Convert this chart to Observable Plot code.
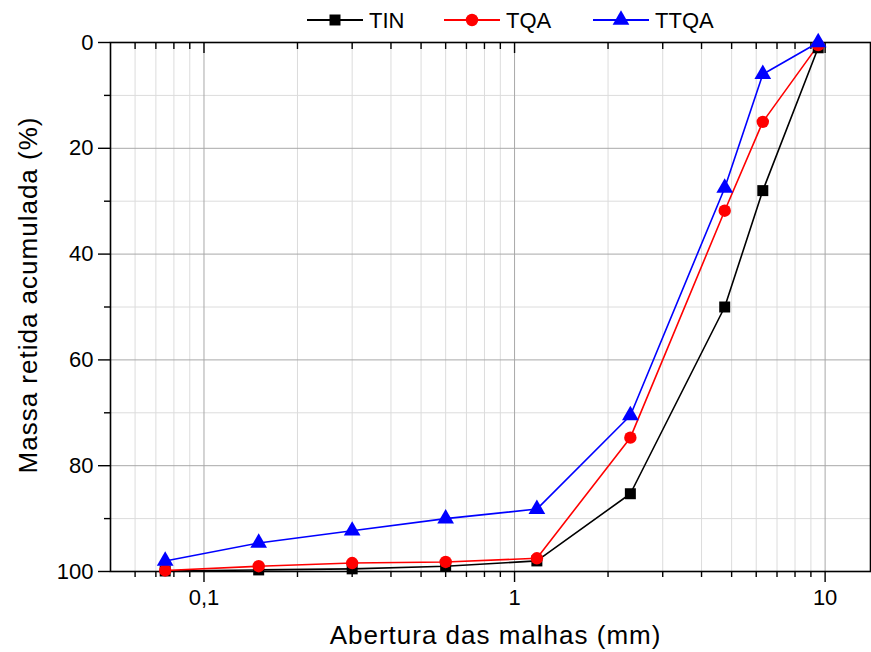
<!DOCTYPE html>
<html>
<head>
<meta charset="utf-8">
<script src="https://cdn.jsdelivr.net/npm/d3@7"></script>
<script src="https://cdn.jsdelivr.net/npm/@observablehq/plot@0.6"></script>
<style>
  html, body { margin: 0; padding: 0; background: #fff; }
  #wrap { position: relative; width: 871px; height: 652px; font-family: "Liberation Sans", Arial, sans-serif; }
  #legend { position: absolute; top: 0; left: 0; width: 871px; height: 36px; }
  svg { overflow: visible; }
</style>
</head>
<body>
<div id="wrap"><div id="chart"></div><svg id="legend" width="871" height="36"></svg></div>
<script>
// Sieve openings (mm)
const sieves = [0.075, 0.15, 0.3, 0.6, 1.18, 2.36, 4.75, 6.3, 9.5];
// Cumulative retained mass (%)
const TIN  = [99.9, 99.7, 99.5, 99.0, 98.0, 85.3, 50.0, 28.0, 1.0];
const TQA  = [99.8, 99.0, 98.4, 98.2, 97.5, 74.7, 31.8, 15.0, 0.5];
const TTQA = [98.0, 94.6, 92.3, 90.0, 88.2, 70.5, 27.5, 6.0, 0.0];
const seriesNames = ["TIN", "TQA", "TTQA"];
const seriesColors = ["black", "red", "blue"];
const seriesSymbols = ["square", "circle", "triangle"];
const yMajor = [0, 20, 40, 60, 80, 100];
const yMinor = [10, 30, 50, 70, 90];
const xMajor = [0.1, 1, 10];
const xMinor = [0.06, 0.07, 0.08, 0.09, 0.2, 0.3, 0.4, 0.5, 0.6, 0.7, 0.8, 0.9, 2, 3, 4, 5, 6, 7, 8, 9];

const allSeries = [TIN, TQA, TTQA];
const data = [];
allSeries.forEach((vals, i) => vals.forEach((v, j) => data.push({series: seriesNames[i], x: sieves[j], y: v})));

const fmt = d => String(d).replace(".", ",");
const blank = () => "";
const font = "Liberation Sans, Arial, sans-serif";

const chart = Plot.plot({
  width: 871,
  height: 652,
  marginLeft: 110,
  marginRight: 1,
  marginTop: 42,
  marginBottom: 81,
  style: {fontFamily: font, fontSize: "22px", color: "black", background: "white", overflow: "visible"},
  x: {type: "log", domain: [0.05, 14]},
  y: {domain: [0, 100], reverse: true},
  color: {domain: seriesNames, range: seriesColors},
  symbol: {domain: seriesNames, range: seriesSymbols},
  marks: [
    Plot.ruleX(xMinor, {stroke: "#dcdcdc", strokeWidth: 1}),
    Plot.ruleY(yMinor, {stroke: "#dcdcdc", strokeWidth: 1}),
    Plot.ruleX(xMajor, {stroke: "#a8a8a8", strokeWidth: 1}),
    Plot.ruleY(yMajor, {stroke: "#a8a8a8", strokeWidth: 1}),
    Plot.frame({stroke: "black", strokeWidth: 1.6}),
    // left axis
    Plot.axisY({anchor: "left", ticks: yMajor, tickSize: 12, tickPadding: 5, tickFormat: d => d, fontSize: 22, label: null, strokeWidth: 1.4}),
    Plot.axisY({anchor: "left", ticks: yMinor, tickSize: 6, tickFormat: blank, label: null, strokeWidth: 1.4}),
    // right axis ticks
    Plot.axisY({anchor: "right", ticks: yMajor, tickSize: 8, tickFormat: blank, label: null, strokeWidth: 1.4}),
    // bottom axis
    Plot.axisX({anchor: "bottom", ticks: xMajor, tickSize: 11, tickPadding: 7, tickFormat: fmt, fontSize: 22, label: null, strokeWidth: 1.4}),
    Plot.axisX({anchor: "bottom", ticks: xMinor, tickSize: 6, tickFormat: blank, label: null, strokeWidth: 1.4}),
    // top axis ticks (inward)
    Plot.axisX({anchor: "top", ticks: xMajor, tickSize: -10, tickFormat: blank, label: null, strokeWidth: 1.4}),
    Plot.axisX({anchor: "top", ticks: xMinor, tickSize: -6, tickFormat: blank, label: null, strokeWidth: 1.4}),
    Plot.line(data, {x: "x", y: "y", z: "series", stroke: "series", strokeWidth: 1.6}),
    Plot.dot(data, {x: "x", y: "y", fill: "series", symbol: "series", r: 6.2, stroke: "none"}),
    Plot.text(["Abertura das malhas (mm)"], {frameAnchor: "bottom", dx: 5, dy: 72, fontSize: 26, text: d => d}),
    Plot.text(["Massa retida acumulada (%)"], {frameAnchor: "left", textAnchor: "middle", dx: -82, dy: -12, rotate: -90, fontSize: 26, text: d => d})
  ]
});
document.getElementById("chart").appendChild(chart);
// slight letter spacing on the axis titles, as in the reference
d3.select(chart).selectAll("text").filter(function() { return /Abertura|Massa/.test(this.textContent); }).style("letter-spacing", "1px");

// Legend built from the same series arrays
const lg = d3.select("#legend");
const lx = [307, 444, 593];
const sym = {square: d3.symbolSquare, circle: d3.symbolCircle, triangle: d3.symbolTriangle};
seriesNames.forEach((name, i) => {
  const g = lg.append("g").attr("transform", `translate(${lx[i]},20)`);
  g.append("line").attr("x1", 0).attr("x2", 56).attr("stroke", seriesColors[i]).attr("stroke-width", 2);
  g.append("path").attr("d", d3.symbol(sym[seriesSymbols[i]], Math.PI * 6.2 * 6.2)()).attr("transform", "translate(28,0)").attr("fill", seriesColors[i]);
  g.append("text").attr("x", 62).attr("y", 8).attr("font-size", 22).attr("font-family", font).attr("fill", "black").text(name);
});
</script>
</body>
</html>
